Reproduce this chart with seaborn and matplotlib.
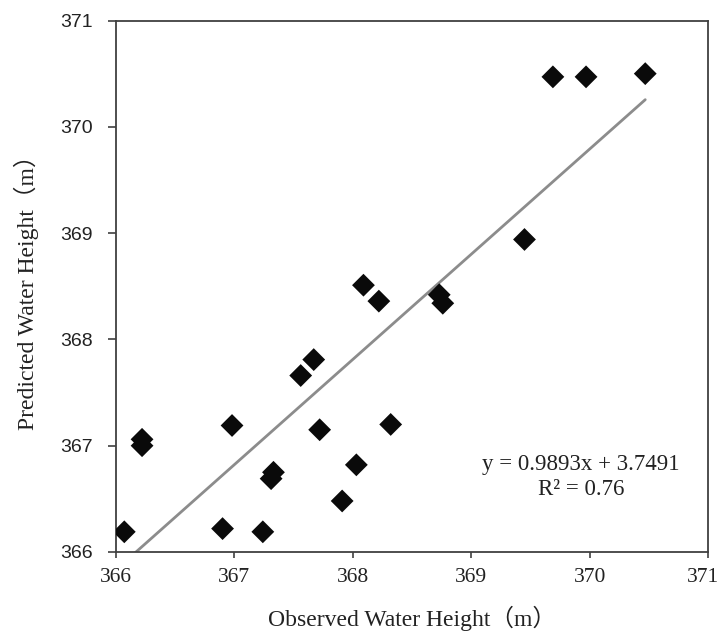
import matplotlib
matplotlib.use("Agg")
import matplotlib.pyplot as plt
import matplotlib.transforms as mtransforms
import seaborn as sns
import numpy as np
import pandas as pd

observed = [366.07, 366.22, 366.22, 366.90, 366.98, 367.24, 367.31, 367.33,
            367.56, 367.67, 367.72, 367.91, 368.03, 368.09, 368.22, 368.32,
            368.73, 368.76, 369.45, 369.69, 369.97, 370.47]
predicted = [366.19, 367.06, 367.00, 366.22, 367.19, 366.19, 366.69, 366.75,
             367.66, 367.81, 367.15, 366.48, 366.82, 368.51, 368.36, 367.20,
             368.42, 368.34, 368.94, 370.47, 370.47, 370.50]
slope = 0.9893
intercept = 3.7491
r2 = 0.76
ticks = [366, 367, 368, 369, 370, 371]

df = pd.DataFrame({"Observed": observed, "Predicted": predicted})

sns.set_theme(style="white")
serif = ["Liberation Serif", "Noto Sans CJK SC", "DejaVu Sans"]

fig = plt.figure(figsize=(7.21, 6.32), dpi=100)
ax = fig.add_axes([116/721, 1-552/632, (708-116)/721, (552-20.5)/632])

# trend line over the data range
xs = np.array([min(observed), max(observed)])
line_df = pd.DataFrame({"x": xs, "y": slope*xs + intercept})
sns.lineplot(data=line_df, x="x", y="y", ax=ax, color="#8c8c8c", linewidth=2.0, zorder=2)

sns.scatterplot(data=df, x="Observed", y="Predicted", ax=ax, marker="D", s=135,
                color="#0a0a0a", edgecolor="none", zorder=3)

ax.set_xlim(366, 371)
ax.set_ylim(366, 371)
ax.set_xticks(ticks)
ax.set_yticks(ticks)
ax.set_xticklabels([str(t) for t in ticks], fontfamily=serif, fontsize=15.5)
ax.set_yticklabels([str(t) for t in ticks], fontfamily=["Liberation Sans", "DejaVu Sans"], fontsize=14)
ax.tick_params(axis="both", direction="out", width=1.2, color="#404040",
               bottom=True, left=True, labelcolor="#222222")
ax.tick_params(axis="x", length=4.5, pad=7)
ax.tick_params(axis="y", length=6, pad=11)
for sp in ax.spines.values():
    sp.set_color("#404040")
    sp.set_linewidth(1.3)

# keep the last x tick label inside the figure edge
last = ax.get_xticklabels()[-1]
last.set_transform(last.get_transform() + mtransforms.ScaledTranslation(-5/100, 0, fig.dpi_scale_trans))

ax.set_xlabel("Observed Water Height（m）", fontfamily=serif, fontsize=17, color="#222222")
ax.set_ylabel("Predicted Water Height（m）", fontfamily=serif, fontsize=17, color="#222222")
ax.xaxis.set_label_coords(0.5, -0.102)
ax.xaxis.label.set_va("top")
ax.yaxis.set_label_coords(-0.13, 0.5)

ax.text(0.785, 0.141, f"y = {slope}x + {intercept}\nR² = {r2}", transform=ax.transAxes,
        ha="center", va="center", fontfamily=serif, fontsize=16.5, color="#222222",
        linespacing=1.3)

fig.savefig("out.png", dpi=100)
